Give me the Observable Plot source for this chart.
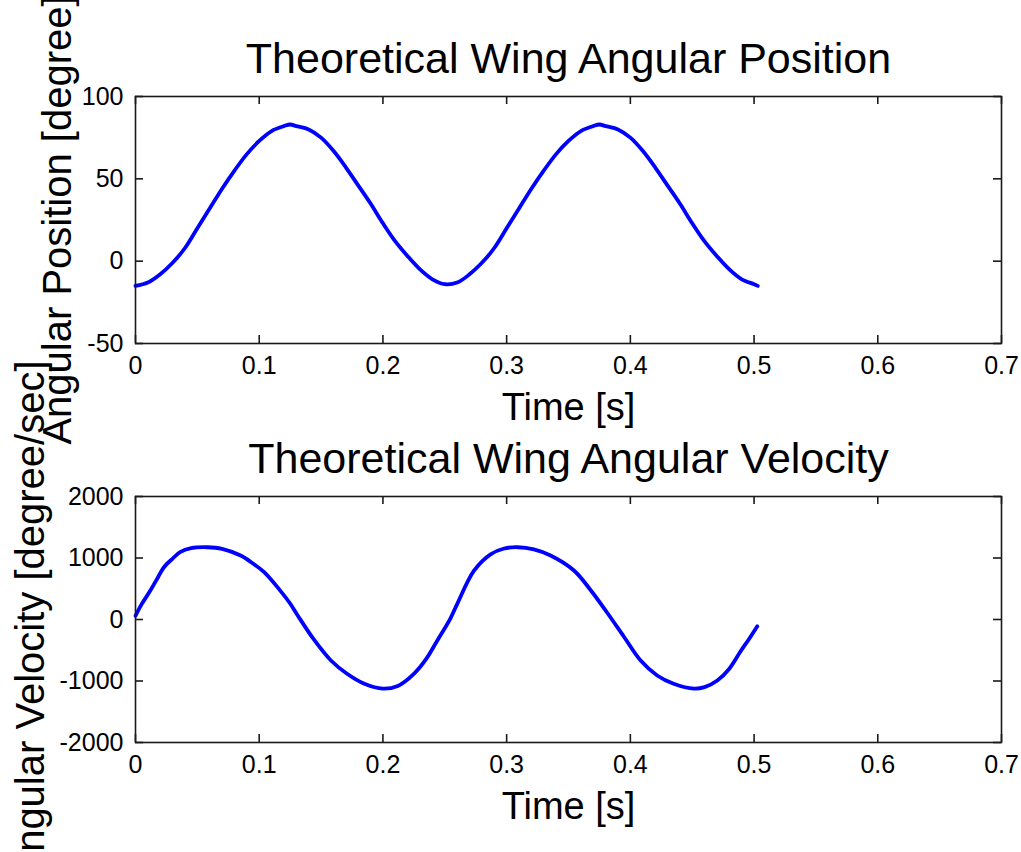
<!DOCTYPE html>
<html>
<head>
<meta charset="utf-8">
<script src="https://cdn.jsdelivr.net/npm/d3@7"></script>
<script src="https://cdn.jsdelivr.net/npm/@observablehq/plot@0.6"></script>
<style>
  html, body { margin: 0; padding: 0; background: #fff; overflow: hidden; }
  #wrap { position: relative; width: 1021px; height: 852px; }
  #wrap svg { position: absolute; left: 0; overflow: visible; background: transparent; }
</style>
</head>
<body>
<div id="wrap"></div>
<script>
// ---------- data ----------
const timeTicks = [0, 0.1, 0.2, 0.3, 0.4, 0.5, 0.6, 0.7];
const posTicks = [-50, 0, 50, 100];
const velTicks = [-2000, -1000, 0, 1000, 2000];

const posTime = [0, 0.01, 0.02, 0.03, 0.04, 0.05, 0.06, 0.07, 0.08, 0.09, 0.10, 0.11, 0.12, 0.125, 0.13, 0.14, 0.15, 0.16, 0.17, 0.18, 0.19, 0.20, 0.21, 0.22, 0.23, 0.24, 0.25,
                 0.26, 0.27, 0.28, 0.29, 0.30, 0.31, 0.32, 0.33, 0.34, 0.35, 0.36, 0.37, 0.375, 0.38, 0.39, 0.40, 0.41, 0.42, 0.43, 0.44, 0.45, 0.46, 0.47, 0.48, 0.49, 0.50, 0.503];
const posDeg  = [-15, -13, -8, -1, 8, 20, 32, 44, 55, 65, 73, 79, 82, 83, 82, 80, 75, 67, 57, 46, 35, 23, 12, 3, -5, -11, -14,
                 -13, -8, -1, 8, 20, 32, 44, 55, 65, 73, 79, 82, 83, 82, 80, 75, 67, 57, 46, 35, 23, 12, 3, -5, -11, -14, -15];

const velTime = [0, 0.005, 0.012, 0.018, 0.023, 0.03, 0.036, 0.045, 0.058, 0.07, 0.085, 0.095, 0.104, 0.117, 0.125, 0.131, 0.144, 0.158, 0.171, 0.185, 0.2, 0.212, 0.225, 0.235, 0.244,
                 0.2546, 0.26, 0.2735, 0.287, 0.298, 0.309, 0.322, 0.3355, 0.3544, 0.3678, 0.3813, 0.3948, 0.4083, 0.4217, 0.435, 0.4515, 0.46, 0.4703, 0.48, 0.489, 0.4965, 0.5026];
const velDeg  = [60, 250, 470, 680, 850, 990, 1095, 1160, 1175, 1150, 1040, 910, 770, 470, 260, 70, -320, -667, -883, -1046, -1125, -1080, -883, -640, -340,
                 20, 250, 790, 1060, 1155, 1175, 1140, 1040, 797, 480, 110, -280, -667, -910, -1046, -1125, -1100, -992, -800, -520, -300, -110];

const titles = ["Theoretical Wing Angular Position", "Theoretical Wing Angular Velocity"];
const xLabel = "Time [s]";
const yLabels = ["Angular Position [degree]", "Angular Velocity [degree/sec]"];

// ---------- drawing ----------
const FONT = "'Liberation Sans', Arial, Helvetica, sans-serif";
const W = 1021, ML = 135, MR = 20;

function panel({time, vals, yDomain, yTicks, title, ylabel, top, height, mt, mb, ylabelDx}) {
  const innerH = height - mt - mb;
  const innerW = W - ML - MR;
  const data = time.map((t, i) => ({t, v: vals[i]}));
  const ink = "#1a1a1a";
  const svg = Plot.plot({
    width: W, height,
    marginLeft: ML, marginRight: MR, marginTop: mt, marginBottom: mb,
    style: {fontFamily: FONT, fontSize: "25px", color: "#000", background: "transparent", overflow: "visible"},
    x: {domain: [0, 0.7], label: null},
    y: {domain: yDomain, label: null},
    marks: [
      Plot.line(data, {x: "t", y: "v", stroke: "#0000ff", strokeWidth: 3.8, curve: "catmull-rom"}),
      Plot.frame({stroke: ink, strokeWidth: 1.6}),
      Plot.tickX(timeTicks, {x: d => d, insetTop: innerH - 8, stroke: ink, strokeWidth: 1.6}),
      Plot.tickX(timeTicks, {x: d => d, insetBottom: innerH - 8, stroke: ink, strokeWidth: 1.6}),
      Plot.tickY(yTicks, {y: d => d, insetRight: innerW - 8, stroke: ink, strokeWidth: 1.6}),
      Plot.tickY(yTicks, {y: d => d, insetLeft: innerW - 8, stroke: ink, strokeWidth: 1.6}),
      Plot.axisX(timeTicks, {anchor: "bottom", tickSize: 0, tickPadding: 13, tickFormat: d => String(d), fontSize: 25, fill: "#000", label: null}),
      Plot.axisY(yTicks, {anchor: "left", tickSize: 0, tickPadding: 12, tickFormat: d => String(d), fontSize: 25, fill: "#000", label: null}),
      Plot.text([title], {text: d => d, frameAnchor: "top", lineAnchor: "bottom", dy: -24, fontSize: 43, fill: "#000"}),
      Plot.text([xLabel], {text: d => d, frameAnchor: "bottom", lineAnchor: "bottom", dy: 76, fontSize: 38, fill: "#000"}),
      Plot.text([ylabel], {text: d => d, frameAnchor: "left", rotate: -90, lineAnchor: "bottom", textAnchor: "middle", dx: ylabelDx, fontSize: 40, fill: "#000"})
    ]
  });
  svg.style.top = top + "px";
  document.getElementById("wrap").appendChild(svg);
}

panel({time: posTime, vals: posDeg, yDomain: [-50, 100], yTicks: posTicks,
       title: titles[0], ylabel: yLabels[0], top: 0, height: 430, mt: 96, mb: 87, ylabelDx: -65});
panel({time: velTime, vals: velDeg, yDomain: [-2000, 2000], yTicks: velTicks,
       title: titles[1], ylabel: yLabels[1], top: 430, height: 422, mt: 66, mb: 110, ylabelDx: -92});
</script>
</body>
</html>
